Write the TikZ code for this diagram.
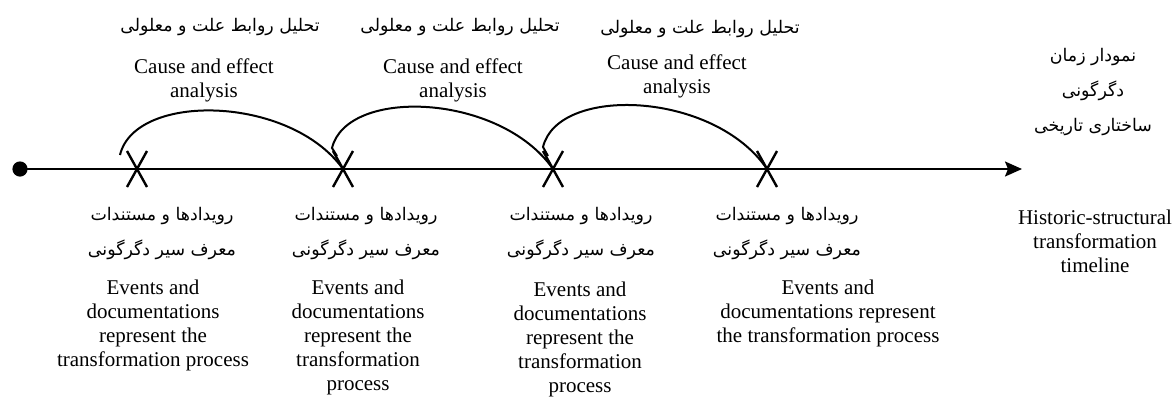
\documentclass[tikz,border=0pt]{standalone}
\usepackage{fontspec}
\setmainfont{Liberation Serif}
\newfontfamily\fa[Script=Arabic]{DejaVu Sans}
\TeXXeTstate=1
\usetikzlibrary{arrows.meta}

\begin{document}
\begin{tikzpicture}[x=0.5pt, y=-0.5pt,
	fa/.style={font=\fa\fontsize{8.7}{17.5}\selectfont, align=center, inner sep=0},
	en/.style={font=\fontsize{10.5}{12}\selectfont, align=center, inner sep=0, anchor=north},
	cross/.style={line width=1.2pt},
	link/.style={line width=1pt}]
	\useasboundingbox (0,0) rectangle (1176,398);
	% time axis
	\coordinate (start) at (20,169);
	\coordinate (end) at (1022,169);
	\draw [line width=1pt, -{Stealth[length=8.5pt, width=7.5pt, inset=1.5pt]}] (start) -- (end);
	\fill (start) circle (3.8pt);
	% events
	\coordinate (e1) at (137,169);
	\coordinate (e2) at (343,169);
	\coordinate (e3) at (553,169);
	\coordinate (e4) at (767,169);
	\foreach \i in {1,...,4}
		\draw [cross] (e\i) ++(-10,-18) -- ++(20,36) (e\i) ++(10,-18) -- ++(-20,36);
	% cause and effect arcs
	\coordinate (a1) at (120,155);
	\coordinate (a2) at (332,148);
	\coordinate (a3) at (543,147);
	\draw [link] (a1) .. controls (135,92) and (290,95) .. (e2);
	\draw [link] (337,156) -- (a2) .. controls (347,87) and (500,93) .. (e3);
	\draw [link] (548,156) -- (a3) .. controls (558,85) and (714,91) .. (e4);
	% labels above
	\node [fa] (c1fa) at (220,27) {\beginR تحلیل روابط علت و معلولی\endR};
	\node [fa] (c2fa) at (460,27) {\beginR تحلیل روابط علت و معلولی\endR};
	\node [fa] (c3fa) at (700,29) {\beginR تحلیل روابط علت و معلولی\endR};
	\node [en] (c1en) at (204,58) {Cause and effect\\analysis};
	\node [en] (c2en) at (453,58) {Cause and effect\\analysis};
	\node [en] (c3en) at (677,54) {Cause and effect\\analysis};
	\node [fa] (axfa) at (1093,92) {\beginR نمودار زمان\endR\\\beginR دگرگونی\endR\\\beginR ساختاری تاریخی\endR};
	% labels below
	\node [fa] (d1fa) at (162,234) {\beginR رویدادها و مستندات\endR\\\beginR معرف سیر دگرگونی\endR};
	\node [fa] (d2fa) at (366,234) {\beginR رویدادها و مستندات\endR\\\beginR معرف سیر دگرگونی\endR};
	\node [fa] (d3fa) at (581,234) {\beginR رویدادها و مستندات\endR\\\beginR معرف سیر دگرگونی\endR};
	\node [fa] (d4fa) at (787,234) {\beginR رویدادها و مستندات\endR\\\beginR معرف سیر دگرگونی\endR};
	\node [en] (d1en) at (153,280) {Events and\\documentations\\represent the\\transformation process};
	\node [en] (d2en) at (358,280) {Events and\\documentations\\represent the\\transformation\\process};
	\node [en] (d3en) at (580,282) {Events and\\documentations\\represent the\\transformation\\process};
	\node [en] (d4en) at (828,280) {Events and\\documentations represent\\the transformation process};
	\node [en] (axen) at (1095,210) {Historic-structural\\transformation\\timeline};
\end{tikzpicture}
\end{document}
